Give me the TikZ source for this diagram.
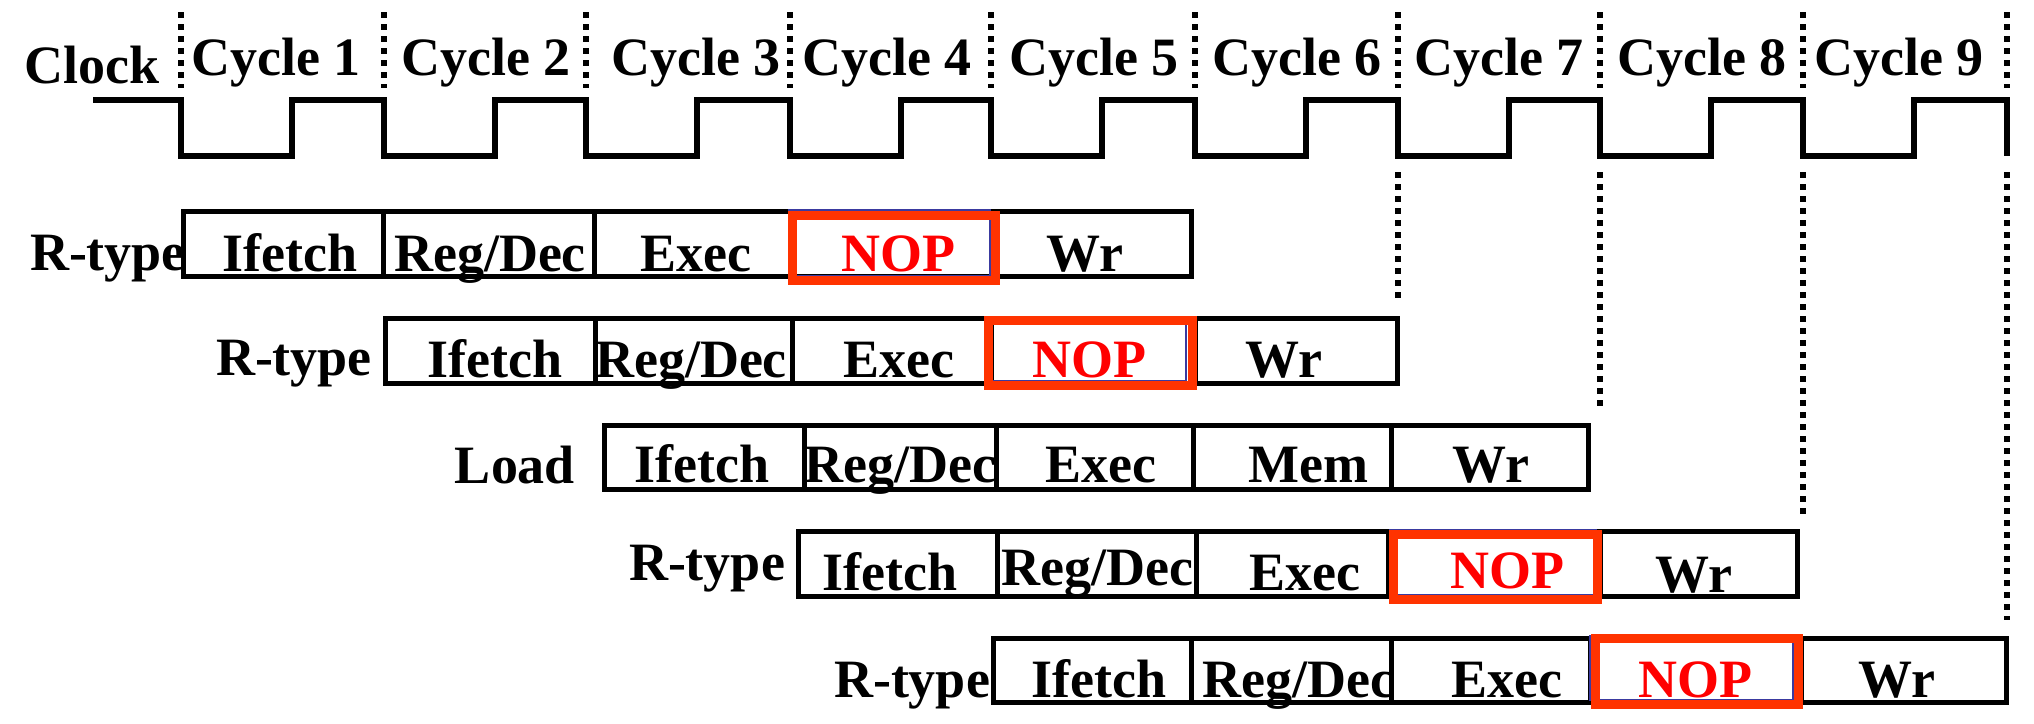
\documentclass[tikz,border=0pt]{standalone}
\usepackage{fontspec}
\setmainfont{Liberation Serif}
\usetikzlibrary{fit}
\definecolor{nopred}{HTML}{FF3300}
\definecolor{noptext}{HTML}{FF0000}
\definecolor{cellblue}{HTML}{3A3AA0}
\newcommand\RD{Reg/Dec}
\newcommand\NOPt{\textcolor{noptext}{NOP}}
\begin{document}
\begin{tikzpicture}[x=0.5pt,y=-0.5pt,
  wave/.style={line width=2.6pt, line join=miter},
  tick/.style={line width=2.8pt, dash pattern=on 3pt off 3pt},
  cell/.style={draw, line width=2.5pt, inner sep=0pt, outer sep=0pt},
  txt/.style={font=\fontsize{27}{30}\selectfont\bfseries, anchor=base, inner sep=0pt, outer sep=0pt},
  nopbox/.style={draw=nopred, line width=4.5pt, inner sep=0pt, outer sep=0pt},
  blueline/.style={draw=cellblue, line width=1pt, inner sep=0pt, outer sep=0pt},
]
\useasboundingbox (0,0) rectangle (2034,723);

% clock waveform
\draw[wave] (93,100) \foreach \a in {181,384,586,790,991,1195,1398,1600,1803} { -- (\a,100) -- (\a,156) -- ({\a+111},156) -- ({\a+111},100) } -- (2007,100) -- (2007,156);

% cycle boundary ticks
\foreach \a in {181,384,586,790,991,1195,1398,1600,1803,2007} \draw[tick] (\a,12) -- (\a,88);
\draw[tick] (1398,172) -- (1398,302);
\draw[tick] (1600,172) -- (1600,408);
\draw[tick] (1803,172) -- (1803,514);
\draw[tick] (2007,172) -- (2007,620);

% header labels
\node[txt] (clock) at (92,83) {Clock};
\foreach \c/\x in {1/276,2/486,3/696,4/887,5/1094,6/1297,7/1499,8/1702,9/1899}
  \node[txt] (cyc\c) at (\x,75) {Cycle \c};

% row 1
\foreach \n/\xa/\xb in {a/183/383, b/383/594, c/594/790, d/790/991, e/991/1191}
  \node[cell, fit={(\xa,211.5)(\xb,276.5)}] (r1\n) {};
% row 2
\foreach \n/\xa/\xb in {a/385/595, b/595/792, c/792/991, d/991/1195, e/1195/1397}
  \node[cell, fit={(\xa,318.5)(\xb,383)}] (r2\n) {};
% row 3
\foreach \n/\xa/\xb in {a/604/804, b/804/996, c/996/1193, d/1193/1391, e/1391/1588}
  \node[cell, fit={(\xa,425)(\xb,489.5)}] (r3\n) {};
% row 4
\foreach \n/\xa/\xb in {a/798/997, b/997/1196, c/1196/1388, d/1388/1600, e/1600/1797}
  \node[cell, fit={(\xa,531.5)(\xb,596.5)}] (r4\n) {};
% row 5
\foreach \n/\xa/\xb in {a/993/1191, b/1191/1391, c/1391/1590, d/1590/1801, e/1801/2006}
  \node[cell, fit={(\xa,638)(\xb,702)}] (r5\n) {};

% thin blue cell remnants
\node[blueline, fit={(789,210)(990,275.5)}] (b1) {};
\node[blueline, fit={(991,318)(1186,381)}] (b2) {};
\node[blueline, fit={(1390,529.5)(1596,594.5)}] (b4) {};
\node[blueline, fit={(1590,636)(1793,700)}] (b5) {};

% red NOP frames
\node[nopbox, fit={(792,215.5)(995.5,280)}] (nop1) {};
\node[nopbox, fit={(988.5,320.5)(1192.5,385)}] (nop2) {};
\node[nopbox, fit={(1393,534.5)(1597,599.5)}] (nop4) {};
\node[nopbox, fit={(1595,638)(1798,704)}] (nop5) {};

% row labels
\node[txt] (lab1) at (108,270) {R-type};
\node[txt] (lab2) at (294,375) {R-type};
\node[txt] (lab3) at (515,483) {Load};
\node[txt] (lab4) at (707,580) {R-type};
\node[txt] (lab5) at (912,697) {R-type};

% cell texts
\foreach \n/\x/\t in {a/290/Ifetch, b/490/\RD, c/696/Exec, d/898/\NOPt, e/1085/Wr}
  \node[txt] (t1\n) at (\x,271) {\t};
\foreach \n/\x/\t in {a/495/Ifetch, b/691/\RD, c/899/Exec, d/1089/\NOPt, e/1284/Wr}
  \node[txt] (t2\n) at (\x,377) {\t};
\foreach \n/\x/\t in {a/702/Ifetch, b/900/\RD, c/1101/Exec, d/1308/Mem, e/1491/Wr}
  \node[txt] (t3\n) at (\x,482) {\t};
\foreach \n/\x/\y/\t in {a/890/590/Ifetch, b/1097/585/\RD, c/1305/590/Exec, d/1507/588/\NOPt, e/1694/592/Wr}
  \node[txt] (t4\n) at (\x,\y) {\t};
\foreach \n/\x/\t in {a/1099/Ifetch, b/1298/\RD, c/1507/Exec, d/1695/\NOPt, e/1897/Wr}
  \node[txt] (t5\n) at (\x,697) {\t};
\end{tikzpicture}
\end{document}
